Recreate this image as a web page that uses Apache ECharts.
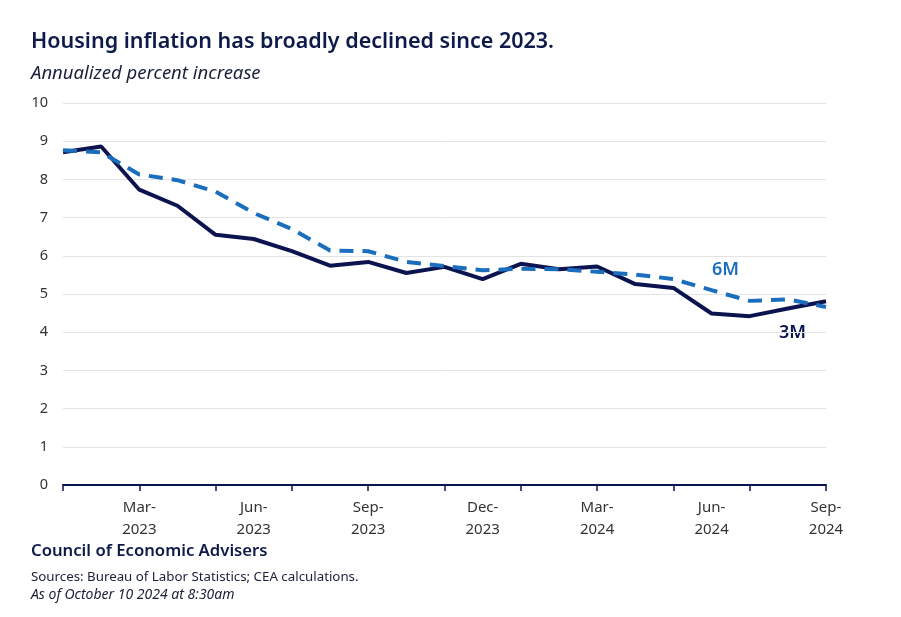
<!DOCTYPE html>
<html>
<head>
<meta charset="utf-8">
<script src="https://cdn.jsdelivr.net/npm/echarts@6/dist/echarts.min.js"></script>
<style>
html,body{margin:0;padding:0;background:#fff;}
#chart{width:901px;height:617px;}
</style>
</head>
<body>
<div id="chart"></div>
<script>
const months = ['Jan-\n2023','Feb-\n2023','Mar-\n2023','Apr-\n2023','May-\n2023','Jun-\n2023','Jul-\n2023','Aug-\n2023','Sep-\n2023','Oct-\n2023','Nov-\n2023','Dec-\n2023',
  'Jan-\n2024','Feb-\n2024','Mar-\n2024','Apr-\n2024','May-\n2024','Jun-\n2024','Jul-\n2024','Aug-\n2024','Sep-\n2024'];
const threeMonth = [8.71, 8.86, 7.73, 7.31, 6.55, 6.44, 6.12, 5.74, 5.84, 5.55, 5.71, 5.39, 5.79, 5.65, 5.72, 5.26, 5.16, 4.49, 4.42, 4.62, 4.81];
const sixMonth   = [8.76, 8.71, 8.13, 7.98, 7.68, 7.12, 6.70, 6.14, 6.12, 5.84, 5.73, 5.62, 5.66, 5.65, 5.58, 5.51, 5.39, 5.10, 4.82, 4.86, 4.66];
const yTicks = [0,1,2,3,4,5,6,7,8,9,10];

const navy = '#0c1450';
const blue = '#1a6ebd';
const font = 'Noto Sans';

const chart = echarts.init(document.getElementById('chart'));
chart.setOption({
  animation: false,
  backgroundColor: '#fff',
  textStyle: { fontFamily: font },
  grid: { left: 63, right: 75, top: 103, bottom: 132 },
  title: [
    { text: 'Housing inflation has broadly declined since 2023.', left: 26, top: 26,
      textStyle: { fontFamily: font, fontSize: 21.5, fontWeight: 600, color: '#0d1a4a' } },
    { text: 'Annualized percent increase', left: 26, top: 59,
      textStyle: { fontFamily: font, fontSize: 18.5, fontWeight: 'normal', fontStyle: 'italic', color: '#1a1f3a' } }
  ],
  xAxis: {
    type: 'category',
    data: months,
    boundaryGap: false,
    axisLine: { lineStyle: { color: navy, width: 2 } },
    axisTick: { show: true, interval: 1, length: 6, lineStyle: { color: navy, width: 1.5 } },
    axisLabel: {
      interval: function (i) { return i % 3 === 2; },
      fontFamily: font, fontSize: 15, color: '#333', lineHeight: 22, margin: 12
    },
    splitLine: { show: false }
  },
  yAxis: {
    type: 'value',
    min: 0, max: 10, interval: 1,
    axisLine: { show: false },
    axisTick: { show: false },
    axisLabel: { fontFamily: font, fontSize: 14.5, color: '#333', margin: 15,
      formatter: function (v) { return yTicks.indexOf(v) >= 0 ? String(v) : ''; } },
    splitLine: { lineStyle: { color: '#e3e3e3', width: 1 } }
  },
  series: [
    { name: '3M', type: 'line', data: threeMonth, symbol: 'none',
      lineStyle: { color: navy, width: 4 }, z: 2 },
    { name: '6M', type: 'line', data: sixMonth, symbol: 'none',
      lineStyle: { color: blue, width: 4, type: [14, 9] }, z: 3 }
  ],
  graphic: [
    { type: 'text', left: 712, top: 261, style: { text: '6M', fontFamily: font, fontSize: 18, fontWeight: 600, fill: blue } },
    { type: 'text', left: 779, top: 324, style: { text: '3M', fontFamily: font, fontSize: 18, fontWeight: 600, fill: navy } },
    { type: 'text', left: 31, top: 543, style: { text: 'Council of Economic Advisers', fontFamily: font, fontSize: 16.7, fontWeight: 600, fill: '#0d1a4a' } },
    { type: 'text', left: 31, top: 571, style: { text: 'Sources: Bureau of Labor Statistics; CEA calculations.', fontFamily: font, fontSize: 13.3, fill: '#1a1f3a' } },
    { type: 'text', left: 31, top: 588, style: { text: 'As of October 10 2024 at 8:30am', fontFamily: font, fontSize: 14, fontStyle: 'italic', fill: '#1a1f3a' } }
  ]
});
</script>
</body>
</html>
